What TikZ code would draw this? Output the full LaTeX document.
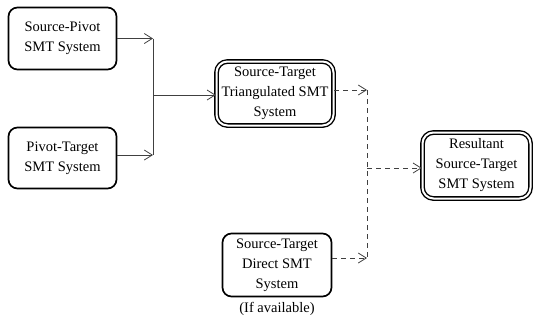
\documentclass[tikz,border=0pt]{standalone}
\usepackage{fontspec}
\setmainfont{Liberation Serif}
\usetikzlibrary{arrows.meta}
\tikzset{every path/.style={line width=0.8pt},
  smtbox/.style={draw, line width=1.7pt, rounded corners=9pt, align=center, inner sep=1pt,
    font=\fontsize{14.5}{20}\selectfont},
  dblbox/.style={smtbox, line width=1.4pt, double, double distance=2pt, rounded corners=11pt},
  feed/.style={draw=black!75, -{Straight Barb[length=8pt,width=10pt]}},
  dfeed/.style={feed, dash pattern=on 5pt off 4pt}}

\begin{document}
\begin{tikzpicture}[x=1pt,y=-1pt]
     \useasboundingbox (0,0) rectangle (534,322);
     \node[smtbox, minimum width=108pt, minimum height=62pt] (sp) at (62.5,38.5) {Source-Pivot\\SMT System};
     \node[smtbox, minimum width=108pt, minimum height=61pt] (pt) at (62.5,158) {Pivot-Target\\SMT System};
     \node[dblbox, minimum width=117pt, minimum height=64pt] (tri) at (275,93.5) {Source-Target\\Triangulated SMT\\System};
     \node[smtbox, minimum width=109pt, minimum height=63pt] (dir) at (277,265) {Source-Target\\Direct SMT\\System};
     \node[dblbox, minimum width=108pt, minimum height=66pt] (res) at (476.5,165.5) {Resultant\\Source-Target\\SMT System};
     \node[font=\fontsize{14.5}{16}\selectfont] (avail) at (277,309) {(If available)};
     \coordinate (jt) at (153,38.5);
     \coordinate (jb) at (153,155);
     \coordinate (jm) at (153,95);
     \coordinate (kt) at (367,90);
     \coordinate (kb) at (367,258);
     \coordinate (km) at (367,168);
     \draw[feed] (sp.east |- jt) -- (jt);
     \draw[feed] (pt.east |- jb) -- (jb);
     \draw[draw=black!75] (jt) -- (jb);
     \draw[feed] (jm) -- (tri.west |- jm);
     \draw[dfeed] (tri.east |- kt) -- (kt);
     \draw[dfeed] (dir.east |- kb) -- (kb);
     \draw[draw=black!75, dash pattern=on 5pt off 4pt] (kt) -- (kb);
     \draw[dfeed] (km) -- (res.west |- km);
\end{tikzpicture}
\end{document}
